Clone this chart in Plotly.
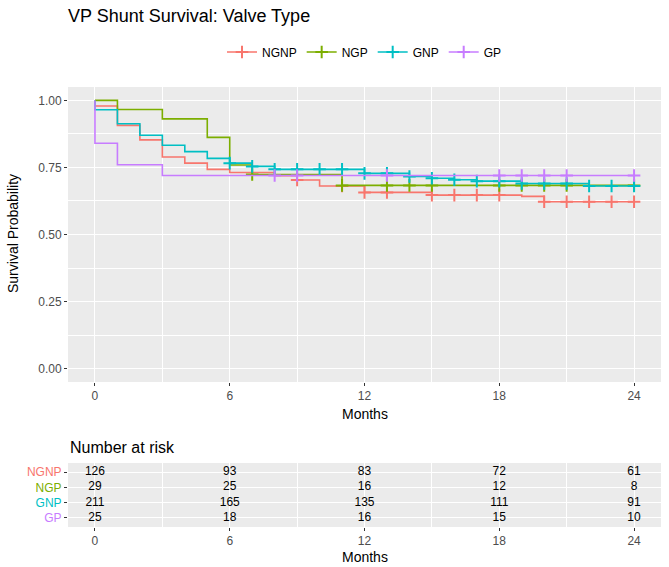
import plotly.graph_objects as go

# groups and colours (ggplot default hue)
groups = ["NGNP", "NGP", "GNP", "GP"]
colors = ["#F8766D", "#7CAE00", "#00BFC4", "#C77CFF"]

# Kaplan-Meier step times (months) and survival after each step
ngnp_t = [0, 1, 2, 3, 4, 5, 6, 8, 9, 10, 12, 15, 19, 20]
ngnp_s = [0.979, 0.907, 0.853, 0.789, 0.766, 0.743, 0.731, 0.719, 0.703, 0.681, 0.657, 0.647, 0.642, 0.622]
ngp_t = [0, 1, 3, 5, 6, 7, 11]
ngp_s = [1.0, 0.966, 0.931, 0.862, 0.759, 0.724, 0.683]
gnp_t = [0, 1, 2, 3, 4, 5, 6, 7, 8, 12, 14, 15, 16, 17, 19, 22]
gnp_s = [0.965, 0.913, 0.870, 0.833, 0.809, 0.784, 0.766, 0.754, 0.743, 0.728, 0.716, 0.710, 0.704, 0.699, 0.690, 0.681]
gp_t = [0, 1, 3]
gp_s = [0.84, 0.76, 0.72]

# censoring times
ngnp_c = [9, 11, 12, 13, 15, 16, 17, 18, 20, 21, 22, 23, 24]
ngp_c = [7, 11, 13, 14, 15, 18, 19, 20, 21, 24]
gnp_c = [6, 7, 8, 9, 10, 11, 12, 13, 14, 15, 16, 17, 18, 19, 20, 21, 22, 23, 24]
gp_c = [8, 9, 13, 18, 19, 20, 21, 24]

# number at risk table
risk_times = [0, 6, 12, 18, 24]
ngnp_risk = [126, 93, 83, 72, 61]
ngp_risk = [29, 25, 16, 12, 8]
gnp_risk = [211, 165, 135, 111, 91]
gp_risk = [25, 18, 16, 15, 10]

end_time = 24
steps = [(ngnp_t, ngnp_s), (ngp_t, ngp_s), (gnp_t, gnp_s), (gp_t, gp_s)]
cens = [ngnp_c, ngp_c, gnp_c, gp_c]
risks = [ngnp_risk, ngp_risk, gnp_risk, gp_risk]


def surv_at(t, times, vals):
    s = 1.0
    for tt, v in zip(times, vals):
        if tt <= t:
            s = v
    return s


FONT = "Liberation Sans, Arial, sans-serif"
fig = go.Figure()

for g, col, (tt, ss), cc in zip(groups, colors, steps, cens):
    fig.add_trace(go.Scatter(
        x=[0] + tt + [end_time], y=[1.0] + ss + [ss[-1]],
        mode="lines", line=dict(color=col, width=1.6, shape="hv"),
        showlegend=False, hoverinfo="skip"))
    fig.add_trace(go.Scatter(
        x=cc, y=[surv_at(c, tt, ss) for c in cc], mode="markers",
        marker=dict(symbol="cross-thin", size=9, line=dict(color=col, width=2)),
        showlegend=False))
    # legend entry
    fig.add_trace(go.Scatter(
        x=[None], y=[None], mode="lines+markers", name=g,
        line=dict(color=col, width=1.6),
        marker=dict(symbol="cross-thin", size=9, line=dict(color=col, width=2))))

# risk table
n = len(groups)
for i, (g, r) in enumerate(zip(groups, risks)):
    fig.add_trace(go.Scatter(
        x=risk_times, y=[n - 1 - i] * len(risk_times), mode="text",
        text=[str(v) for v in r], textfont=dict(size=12, color="black", family=FONT),
        xaxis="x2", yaxis="y2", showlegend=False, hoverinfo="skip"))

axis_common = dict(
    range=[-1.2, 25.2], tickvals=risk_times, ticks="outside", ticklen=3,
    tickcolor="#333333", tickfont=dict(size=12, color="#4d4d4d"),
    showgrid=True, gridcolor="white", gridwidth=1.1, zeroline=False,
    minor=dict(dtick=3, tick0=0, showgrid=True, gridcolor="white", gridwidth=0.5),
    showline=False, automargin=False,
)

# panel geometry in pixels: plot area spans y 87..527, x 68..661
H = 440.0
W = 593.0


def py(pix):
    return (527 - pix) / H


fig.update_layout(
    width=669, height=567,
    margin=dict(l=68, r=8, t=87, b=40, autoexpand=False),
    paper_bgcolor="white", plot_bgcolor="#EBEBEB",
    font=dict(family=FONT, color="black"),
    title=dict(text="VP Shunt Survival: Valve Type", x=68 / 669, xanchor="left",
               y=1 - 16 / 567, yanchor="middle", font=dict(size=18, color="black")),
    legend=dict(orientation="h", x=0.5, xanchor="center", y=py(52), yanchor="middle",
                font=dict(size=12), bgcolor="rgba(0,0,0,0)"),
    xaxis=dict(domain=[0, 1], anchor="y", **axis_common),
    yaxis=dict(domain=[py(382), 1], range=[-0.05, 1.05], tickvals=[0, 0.25, 0.5, 0.75, 1.0],
               tickformat=".2f", ticks="outside", ticklen=3, tickcolor="#333333",
               tickfont=dict(size=12, color="#4d4d4d"), showgrid=True, gridcolor="white",
               gridwidth=1.1, zeroline=False, automargin=False,
               minor=dict(dtick=0.125, tick0=0, showgrid=True, gridcolor="white", gridwidth=0.5)),
    xaxis2=dict(domain=[0, 1], anchor="y2", **axis_common),
    yaxis2=dict(domain=[0, py(463)], range=[-0.6, n - 0.4],
                tickvals=list(range(n)),
                ticktext=[f"<span style='color:{colors[n - 1 - k]}'>{groups[n - 1 - k]}</span>"
                          for k in range(n)],
                ticks="outside", ticklen=3, tickcolor="#333333", automargin=False,
                tickfont=dict(size=12), showgrid=True, gridcolor="white", gridwidth=1.1,
                zeroline=False),
    annotations=[
        dict(text="Number at risk", xref="paper", yref="paper", x=0, y=py(447),
             xanchor="left", yanchor="middle", showarrow=False, font=dict(size=16)),
        dict(text="Months", xref="paper", yref="paper", x=0.5, y=py(414),
             xanchor="center", yanchor="middle", showarrow=False, font=dict(size=14)),
        dict(text="Months", xref="paper", yref="paper", x=0.5, y=py(557),
             xanchor="center", yanchor="middle", showarrow=False, font=dict(size=14)),
        dict(text="Survival Probability", xref="paper", yref="paper", x=(13 - 68) / W,
             y=py(234), xanchor="center", yanchor="middle", textangle=-90,
             showarrow=False, font=dict(size=14)),
    ],
)

# drop the browser's default 8px body margin so the figure fills the window
fig.write_html("out.html", config={"displayModeBar": False},
               post_script="document.body.style.margin='0';")
